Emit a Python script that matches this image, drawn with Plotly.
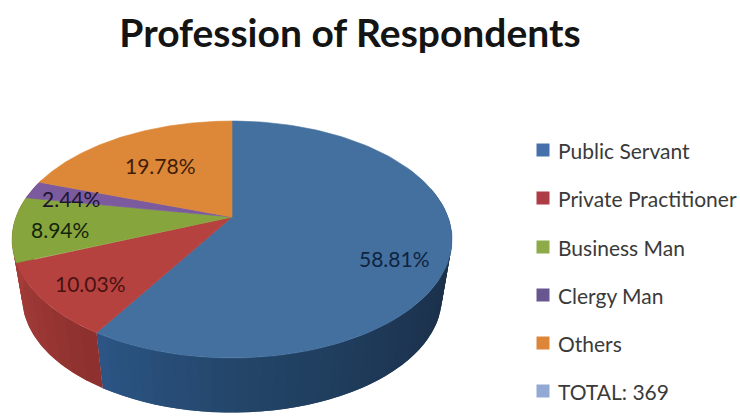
import numpy as np
import plotly.graph_objects as go

# Survey shares, clockwise from twelve o'clock
categories = ["Public Servant", "Private Practitioner", "Business Man", "Clergy Man", "Others"]
shares = [58.81, 10.03, 8.94, 2.44, 19.78]
total_label = "TOTAL: 369"
chart_title = "Profession of Respondents"

top_colors = ["#44709f", "#b5423f", "#86a63d", "#7b5a9e", "#dd8838"]
legend_colors = ["#4670ac", "#ad3c47", "#8dab48", "#67568f", "#dd863a", "#92a9d3"]

# Perspective of the disc: far side is compressed towards the hub
CX, K = 232.0, 0.19
TOP = dict(hub=217.0, bx=216.0, ay=114.2)
BASE = dict(hub=275.6, bx=206.0, ay=111.0)


def rim(theta_deg, face, r=1.0):
    t = np.radians(theta_deg)
    x, y = r * np.sin(t), r * np.cos(t)
    w = 1 + K * y
    return CX + face["bx"] * x / w, face["hub"] - face["ay"] * y / w


def hex_mix(stops, u):
    """Interpolate a list of hex colours at u in [0, 1]."""
    rgb = np.array([[int(c[i:i + 2], 16) for i in (1, 3, 5)] for c in stops], float)
    pos = np.linspace(0, 1, len(stops))
    vals = [np.interp(u, pos, rgb[:, i]) for i in range(3)]
    return "rgb({:.0f},{:.0f},{:.0f})".format(*vals)


def polygon(xs, ys, color, name, width=0.6):
    return go.Scatter(x=xs, y=ys, mode="lines", fill="toself", fillcolor=color,
                      line=dict(color=color, width=width), name=name,
                      hoverinfo="name", showlegend=False)


fig = go.Figure()
edges = np.concatenate([[0], np.cumsum(shares)]) * 3.6


def add_wall(start, end, stops, name, steps):
    # Each strip runs under the next one so no seams show between them
    cuts = np.linspace(start, end, steps + 1)
    for i in range(steps):
        stop = cuts[min(i + 2, steps)]
        arc = np.linspace(cuts[i], stop, 7)
        tx, ty = rim(arc, TOP)
        bx, by = rim(arc[::-1], BASE)
        fig.add_trace(polygon(np.r_[tx, bx], np.r_[ty, by],
                              hex_mix(stops, (i + 0.5) / steps), name, width=0))


# Side wall of the disc, shaded along its length
add_wall(75, edges[1], ["#1a2e46", "#1b3049", "#1e3857", "#234568", "#2c5585"], categories[0], 50)
add_wall(edges[1], 290, ["#8c302d", "#9c3835", "#a63c38", "#a63c38"], categories[1], 16)

# Top face, one polygon per slice
for i, cat in enumerate(categories):
    arc = np.linspace(edges[i], edges[i + 1], 120)
    rx, ry = rim(arc, TOP)
    fig.add_trace(polygon(np.r_[CX, rx, CX], np.r_[TOP["hub"], ry, TOP["hub"]], top_colors[i], cat))

# Percentage labels on the top face
label_spots = [(394, 258), (90, 283), (60, 229), (71, 198), (160, 165)]
label_inks = ["#0f2440", "#4a1212", "#14240a", "#1c1430", "#3f1d08"]
for (lx, ly), v, ink in zip(label_spots, shares, label_inks):
    fig.add_annotation(x=lx, y=ly, text=f"{v:.2f}%", showarrow=False,
                       font=dict(family="Lato", size=21, color=ink))

# Key on the right
key_names = categories + [total_label]
key_rows = [150, 198, 247, 295, 343, 391]
fig.add_trace(go.Scatter(x=[543] * len(key_names), y=key_rows, mode="markers",
                         marker=dict(symbol="square", size=13, color=legend_colors),
                         hoverinfo="skip", showlegend=False))
for name, row in zip(key_names, key_rows):
    fig.add_annotation(x=556, y=row, text=name, showarrow=False, xanchor="left",
                       font=dict(family="Lato", size=21, color="#3a3a3a"))

fig.update_layout(
    width=740, height=416, margin=dict(l=0, r=0, t=0, b=0),
    paper_bgcolor="white", plot_bgcolor="white", showlegend=False,
    title=dict(text=f"<b>{chart_title}</b>", x=350 / 740, xanchor="center",
               y=1 - 33 / 416, yanchor="middle",
               font=dict(family="Lato", size=39, color="#141414")),
    xaxis=dict(range=[0, 740], visible=False, fixedrange=True),
    yaxis=dict(range=[416, 0], visible=False, fixedrange=True),
)

fig.write_html("out.html")
